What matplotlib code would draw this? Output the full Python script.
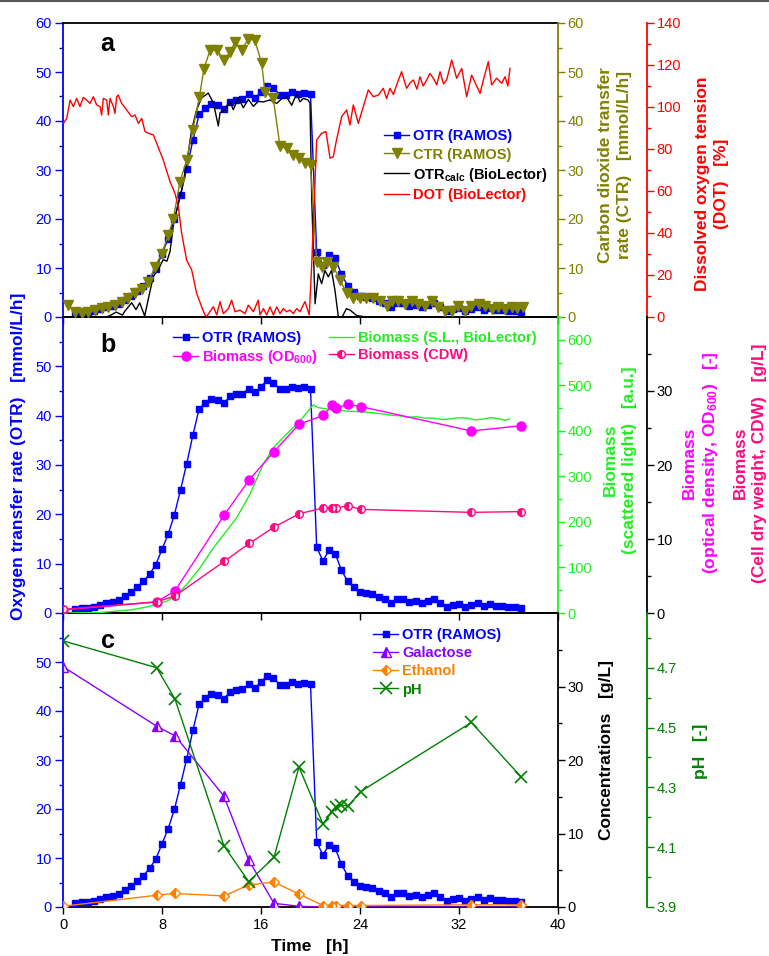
import matplotlib
matplotlib.use('Agg')
import matplotlib.pyplot as plt
from matplotlib.ticker import FixedLocator, FormatStrFormatter
from matplotlib.lines import Line2D

plt.rcParams['font.family'] = ['Liberation Sans', 'DejaVu Sans']
plt.rcParams['mathtext.fontset'] = 'custom'
plt.rcParams['mathtext.rm'] = 'Liberation Sans'
plt.rcParams['mathtext.bf'] = 'Liberation Sans:bold'
plt.rcParams['mathtext.it'] = 'Liberation Sans:italic'

# ---------------- data ----------------
otr_t = [1.0, 1.5, 2.0, 2.5, 3.0, 3.5, 4.0, 4.5, 5.0, 5.5, 6.0, 6.5, 7.0, 7.5, 8.0, 8.5,
         9.0, 9.5, 10.0, 10.5, 11.0, 11.5, 12.0, 12.5, 13.0, 13.5, 14.0, 14.5, 15.0, 15.5,
         16.0, 16.5, 17.0, 17.5, 18.0, 18.5, 19.0, 19.5, 20.0, 20.5, 21.0, 21.5, 22.0, 22.5,
         23.0, 23.5, 24.0, 24.5, 25.0, 25.5, 26.0, 26.5, 27.0, 27.5, 28.0, 28.5, 29.0, 29.5,
         30.0, 30.5, 31.0, 31.5, 32.0, 32.5, 33.0, 33.5, 34.0, 34.5, 35.0, 35.5, 36.0, 36.5, 37.0]
otr_v = [0.75, 1.0, 1.1, 1.3, 1.6, 2.0, 2.3, 2.7, 3.4, 4.3, 5.3, 6.4, 7.9, 9.8, 12.9, 16.0,
         19.9, 25.0, 30.3, 36.1, 41.4, 42.6, 43.4, 43.2, 42.5, 43.9, 44.3, 44.4, 45.5, 44.7,
         45.9, 47.2, 46.7, 45.4, 45.4, 45.9, 45.6, 45.8, 45.5, 13.3, 10.6, 12.7, 12.0, 8.7,
         6.4, 5.2, 4.3, 4.0, 3.9, 3.3, 2.8, 2.1, 2.8, 2.8, 2.3, 2.5, 2.1, 2.5,
         2.8, 2.0, 1.3, 1.6, 1.8, 1.3, 1.6, 2.0, 1.4, 1.8, 1.4, 1.4, 1.3, 1.2, 1.1]

ctr_t = [0.43, 0.97, 1.51, 2.05, 2.59, 3.12, 3.66, 4.2, 4.74, 5.28, 5.82, 6.36, 6.9, 7.43,
         7.97, 8.51, 8.92, 9.45, 9.99, 10.48, 11.02, 11.39, 11.88, 12.47, 13.0, 13.5, 13.9,
         14.44, 14.97, 15.5, 16.05, 16.32, 16.99, 17.54, 18.07, 18.61, 19.1, 19.55, 20.0,
         20.5, 20.9, 21.36, 21.84, 22.38, 22.92, 23.46, 24.0, 24.5, 25.08, 25.6, 26.15,
         26.56, 27.1, 27.6, 28.2, 28.7, 29.25, 29.8, 30.33, 30.87, 31.4, 31.95, 32.5, 33.0,
         33.6, 34.1, 34.64, 35.18, 35.7, 36.25, 36.7, 37.2]
ctr_v = [2.45, 1.1, 0.9, 1.1, 1.4, 1.8, 2.1, 2.45, 3.1, 3.8, 4.8, 5.8, 7.1, 10.2,
         12.9, 16.7, 20.1, 27.6, 32.0, 38.1, 44.9, 50.7, 54.4, 54.4, 52.4, 54.1, 56.1,
         54.4, 56.8, 56.5, 51.8, 46.0, 44.6, 34.8, 34.4, 33.1, 32.4, 31.4, 31.0,
         11.3, 10.3, 11.3, 10.3, 7.6, 4.9, 3.9, 3.9, 3.9, 3.9, 3.3, 2.3,
         3.3, 3.3, 2.6, 3.3, 2.6, 2.3, 3.3, 2.0, 1.3, 1.3, 2.3, 1.3, 2.3,
         2.6, 2.3, 1.6, 2.0, 1.6, 2.0, 1.8, 2.0]

calc_t = [0.0, 1.0, 2.0, 3.0, 3.8, 4.3, 4.8, 5.0, 5.55, 5.9, 6.2, 6.6, 7.0, 7.3, 7.7, 8.1,
          8.4, 8.65, 8.9, 9.2, 9.6, 10.0, 10.4, 10.8, 11.2, 11.74, 12.15, 12.55, 12.69, 13.1,
          13.5, 13.76, 14.17, 14.57, 14.98, 15.38, 15.78, 16.19, 16.73, 17.27, 17.7, 18.07,
          18.48, 18.88, 19.15, 19.42, 19.8, 19.96, 20.1, 20.37, 20.63, 20.9, 21.17, 21.44,
          21.7, 21.98, 22.25, 22.5, 22.9, 23.2, 23.73, 24.5, 25.0]
calc_v = [-0.5, -0.5, -0.4, -0.5, 0.3, 1.0, 0.4, 1.2, 2.9, 1.5, 2.9, 0.2, 4.9, 8.3, 9.7, 11.7,
          11.4, 13.4, 18.5, 21.9, 26.0, 31.4, 38.2, 42.3, 44.7, 45.7, 43.7, 39.0, 41.7, 42.3,
          44.0, 42.3, 44.7, 42.7, 44.4, 43.0, 44.0, 43.9, 44.3, 43.6, 44.6, 44.9,
          43.2, 45.6, 43.9, 44.6, 44.3, 43.6, 24.0, 2.7, 8.8, 6.8, 9.5, 8.2,
          9.5, 5.4, 0.0, -0.3, 1.7, 1.4, 0.3, 0.0, -0.3]

dot_t = [0.03, 0.3, 0.57, 0.84, 1.1, 1.37, 1.64, 1.91, 2.18, 2.45, 2.72, 2.99, 3.12, 3.26,
         3.53, 3.66, 3.8, 4.07, 4.2, 4.34, 4.47, 4.74, 5.14, 5.55, 5.82, 6.09, 6.36, 6.63,
         6.9, 7.3, 7.57, 8.1, 8.65, 9.05, 9.32, 9.59, 9.99, 10.4, 10.8, 11.2, 11.47, 11.6,
         12.15, 12.42, 12.69, 12.96, 13.36, 13.63, 13.9, 14.3, 14.7, 14.98, 15.38, 15.78,
         15.92, 16.19, 16.46, 16.73, 17.0, 17.27, 17.54, 17.8, 18.07, 18.34, 18.61, 18.88,
         19.15, 19.55, 19.9, 20.09, 20.5, 20.9, 21.25, 21.58, 21.84, 22.1, 22.52, 22.92,
         23.19, 23.46, 23.86, 24.27, 24.67, 25.08, 25.48, 25.88, 26.15, 26.42, 26.7, 26.96,
         27.36, 27.77, 28.05, 28.31, 28.6, 28.85, 29.1, 29.39, 29.65, 29.93, 30.2, 30.47,
         30.75, 31.0, 31.41, 31.81, 32.22, 32.62, 33.02, 33.35, 33.7, 33.97, 34.37, 34.64,
         35.04, 35.45, 35.72, 35.95, 36.12]
dot_v = [92.2, 94.6, 103.3, 100.2, 104.1, 100.2, 104.6, 103.3, 101.7, 104.9, 101.0, 100.2,
         96.2, 104.1, 103.3, 96.2, 104.1, 100.2, 97.0, 104.9, 105.7, 101.7, 98.6, 95.4, 96.2,
         92.2, 94.6, 88.3, 87.5, 86.7, 82.7, 74.8, 64.4, 58.9, 52.5, 39.8, 27.1, 22.4, 11.3,
         4.9, 1.0, 0.2, 4.9, 1.0, 7.3, 1.6, 4.0, 8.0, 2.5, 3.3, 1.6, 5.6, 2.5, 8.0,
         1.0, 4.0, 1.0, 4.8, 1.0, 4.8, 1.6, 4.0, 2.5, 3.3, 1.6, 4.0,
         2.5, 7.3, 1.0, 24.0, 84.3, 87.5, 88.3, 75.6, 76.3, 84.3, 95.4, 98.6,
         91.4, 101.0, 92.2, 100.2, 108.1, 104.9, 105.7, 108.9, 104.0, 108.9, 106.0, 110.5,
         116.8, 108.9, 111.5, 112.9, 108.5, 114.4, 110.0, 112.9, 116.0, 113.7, 110.5, 116.8,
         111.0, 112.9, 122.4, 113.7, 118.4, 104.9, 115.2, 111.0, 106.5, 112.9, 121.6, 110.5,
         113.7, 111.3, 114.4, 110.0, 118.4]

sl_t = [0.0, 3.0, 5.68, 7.03, 8.38, 9.05, 9.99, 11.07, 12.15, 13.09, 14.03, 15.11, 16.19,
        17.0, 18.07, 19.15, 19.82, 20.23, 20.63, 21.3, 21.85, 22.65, 23.3, 24.0, 24.9, 25.9,
        26.6, 27.23, 27.9, 28.58, 29.2, 29.93, 30.6, 31.27, 31.9, 32.62, 33.3, 33.97, 34.6,
        35.3, 35.7, 36.07]
sl_v = [0, 1, 7.5, 14.8, 25.8, 36.8, 62.6, 99, 143, 176, 209, 261, 327,
        363, 393, 422, 444, 457, 451, 448, 446, 444, 443, 442, 440, 437,
        434, 433, 430, 431, 428, 428, 425, 426, 429, 428, 424, 426, 429,
        426, 423, 426]

samp_t = [0.0, 7.57, 9.05, 13.05, 15.05, 17.05, 19.07, 21.02, 21.77, 22.06, 23.06, 24.05,
          33.0, 37.0]
od_v = [0.4, 1.5, 3.0, 13.3, 18.0, 21.8, 25.5, 26.7, 28.1, 27.7, 28.2, 27.9, 24.6, 25.3]
cdw_v = [0.5, 1.5, 2.3, 7.0, 9.4, 11.6, 13.4, 14.2, 14.2, 14.2, 14.5, 14.0, 13.6, 13.7]

conc_t = [0.0, 7.57, 9.05, 13.0, 15.0, 17.05, 19.07, 21.02, 21.77, 22.06, 23.06, 24.05,
          33.0, 37.0]
gal_v = [32.7, 24.6, 23.3, 15.1, 6.4, 0.5, 0.1, 0.0, 0.0, 0.0, 0.0, 0.0, 0.0, 0.0]
eth_v = [0.1, 1.6, 1.85, 1.5, 3.0, 3.4, 1.75, 0.2, 0.2, 0.2, 0.2, 0.2, 0.3, 0.3]

ph_t = [0.0, 7.57, 9.05, 13.0, 15.0, 17.05, 19.07, 21.0, 21.77, 22.06, 22.44, 23.06, 24.05,
        33.0, 37.0]
ph_v = [4.79, 4.70, 4.595, 4.105, 3.985, 4.066, 4.368, 4.178, 4.219, 4.236, 4.241, 4.238,
        4.286, 4.517, 4.336]

time_ticks = [0, 8, 16, 24, 32, 40]

# ---------------- colours ----------------
BLUE = '#0000FF'
OLIVE = '#808000'
RED = '#FF0000'
LIME = '#22EE22'
MAGENTA = '#FF00FF'
PINK = '#FF0A80'
PURPLE = '#8A00FF'
ORANGE = '#FF8000'
DGREEN = '#008000'

W_PX, H_PX = 769, 956
fig = plt.figure(figsize=(W_PX / 100, H_PX / 100), dpi=100)

def fx(px):
    return px / W_PX

def fy(py):
    return 1 - py / H_PX

X0, X1 = 63, 558
OFFS = (647 - X0) / (X1 - X0)

def make_ax(top, bottom):
    ax = fig.add_axes([fx(X0), fy(bottom), fx(X1 - X0), (bottom - top) / H_PX])
    ax.patch.set_visible(False)
    return ax

axA = make_ax(23, 317)
axB = make_ax(317, 613)
axC = make_ax(613, 907)

SP_LW = 1.3
TICK = dict(direction='out', width=1.0)
TLS = 10.5

for ax, lab_top in [(axA, 60), (axB, 50), (axC, 50)]:
    ax.set_xlim(0, 40)
    ax.set_ylim(0, 60)
    ax.xaxis.set_major_locator(FixedLocator(time_ticks))
    ax.yaxis.set_major_locator(FixedLocator(list(range(0, lab_top + 1, 10))))
    ax.yaxis.set_minor_locator(FixedLocator([5, 15, 25, 35, 45, 55]))
    for s in ['left', 'right', 'top', 'bottom']:
        ax.spines[s].set_linewidth(SP_LW)
    ax.spines['left'].set_color(BLUE)
    ax.spines['right'].set_visible(False)
    ax.tick_params(axis='y', which='major', length=6, colors=BLUE, labelsize=TLS, pad=2, **TICK)
    ax.tick_params(axis='y', which='minor', length=3, colors=BLUE, **TICK)
    ax.tick_params(axis='x', which='major', length=5, labelsize=TLS, pad=3, top=False, **TICK)
    ax.plot(otr_t, otr_v, '-s', color=BLUE, ms=5, lw=1.0, zorder=3)

axA.tick_params(axis='x', labelbottom=False)
axB.tick_params(axis='x', labelbottom=False)


def twin(ax, color, offset=None):
    t = ax.twinx()
    for s in ['left', 'top', 'bottom']:
        t.spines[s].set_visible(False)
    t.spines['right'].set_color(color)
    t.spines['right'].set_linewidth(SP_LW)
    if offset is not None:
        t.spines['right'].set_position(('axes', offset))
    t.tick_params(axis='y', which='major', length=5, colors=color, labelsize=TLS, pad=2, **TICK)
    t.tick_params(axis='y', which='minor', length=3, colors=color, **TICK)
    return t

# ---------- panel a ----------
lcalc, = axA.plot(calc_t, calc_v, color='black', lw=1.0, zorder=4)
axA_ctr = twin(axA, OLIVE)
axA_ctr.set_ylim(0, 60)
axA_ctr.yaxis.set_major_locator(FixedLocator(list(range(0, 61, 10))))
axA_ctr.yaxis.set_minor_locator(FixedLocator([5, 15, 25, 35, 45, 55]))
lctr, = axA_ctr.plot(ctr_t, ctr_v, '-v', color=OLIVE, ms=7, lw=1.0)
axA_dot = twin(axA, RED, OFFS)
axA_dot.set_ylim(0, 140)
axA_dot.yaxis.set_major_locator(FixedLocator(list(range(0, 141, 20))))
axA_dot.yaxis.set_minor_locator(FixedLocator(list(range(10, 140, 20))))
ldot, = axA_dot.plot(dot_t, dot_v, color=RED, lw=1.0)
lotrA = Line2D([], [], color=BLUE, marker='s', ms=5, lw=1.0)

LEG = dict(frameon=False, loc='upper left', handlelength=1.75, handletextpad=0.25,
           labelspacing=0.28, borderpad=0, borderaxespad=0, numpoints=1,
           prop={'weight': 'bold', 'size': 10.5})
legA = axA_dot.legend([lotrA, lctr, lcalc, ldot],
                      ['OTR (RAMOS)', 'CTR (RAMOS)', r'OTR$_{\mathbf{calc}}$ (BioLector)',
                       'DOT (BioLector)'],
                      bbox_to_anchor=(0.648, 0.638), **LEG)
for txt, c in zip(legA.get_texts(), [BLUE, OLIVE, 'black', RED]):
    txt.set_color(c)

# ---------- panel b ----------
axB_sl = twin(axB, LIME)
axB_sl.set_ylim(0, 650)
axB_sl.yaxis.set_major_locator(FixedLocator(list(range(0, 601, 100))))
axB_sl.yaxis.set_minor_locator(FixedLocator(list(range(50, 651, 100))))
lsl, = axB_sl.plot(sl_t, sl_v, color=LIME, lw=1.0)
axB_bm = twin(axB, 'black', OFFS)
axB_bm.set_ylim(0, 40)
axB_bm.yaxis.set_major_locator(FixedLocator([0, 10, 20, 30]))
axB_bm.yaxis.set_minor_locator(FixedLocator([5, 15, 25, 35]))
lod, = axB_bm.plot(samp_t, od_v, '-o', color=MAGENTA, ms=6.5, lw=1.0)
lcdw, = axB_bm.plot(samp_t, cdw_v, '-o', color=PINK, ms=5.5, lw=1.0, fillstyle='left',
                    markerfacecoloralt='white', markeredgecolor=PINK, markeredgewidth=1.0)
lotrB = Line2D([], [], color=BLUE, marker='s', ms=5, lw=1.0)
LEGB = dict(LEG)
LEGB['labelspacing'] = 0.2
legB = axB_bm.legend([lotrB, lod, lsl, lcdw],
                     ['OTR (RAMOS)', r'Biomass (OD$_{\mathbf{600}}$)',
                      'Biomass (S.L., BioLector)', 'Biomass (CDW)'],
                     ncol=2, columnspacing=0.75, bbox_to_anchor=(0.222, 0.952), **LEGB)
for txt, c in zip(legB.get_texts(), [BLUE, MAGENTA, LIME, PINK]):
    txt.set_color(c)

# ---------- panel c ----------
axC_cc = twin(axC, 'black')
axC_cc.set_ylim(0, 40)
axC_cc.yaxis.set_major_locator(FixedLocator([0, 10, 20, 30]))
axC_cc.yaxis.set_minor_locator(FixedLocator([5, 15, 25, 35]))
lgal, = axC_cc.plot(conc_t, gal_v, '-^', color=PURPLE, ms=7, lw=1.0, fillstyle='left',
                    markerfacecoloralt='white', markeredgecolor=PURPLE, markeredgewidth=1.0)
leth, = axC_cc.plot(conc_t, eth_v, '-D', color=ORANGE, ms=5.5, lw=1.0, fillstyle='left',
                    markerfacecoloralt='white', markeredgecolor=ORANGE, markeredgewidth=1.0)
axC_ph = twin(axC, DGREEN, OFFS)
axC_ph.set_ylim(3.9, 4.883)
axC_ph.yaxis.set_major_locator(FixedLocator([3.9, 4.1, 4.3, 4.5, 4.7]))
axC_ph.yaxis.set_minor_locator(FixedLocator([4.0, 4.2, 4.4, 4.6, 4.8]))
axC_ph.yaxis.set_major_formatter(FormatStrFormatter('%.1f'))
lph, = axC_ph.plot(ph_t, ph_v, '-x', color=DGREEN, ms=8, mew=1.2, lw=1.0)
lotrC = Line2D([], [], color=BLUE, marker='s', ms=5, lw=1.0)
legC = axC_ph.legend([lotrC, lgal, leth, lph], ['OTR (RAMOS)', 'Galactose', 'Ethanol', 'pH'],
                     bbox_to_anchor=(0.626, 0.948), **LEG)
for txt, c in zip(legC.get_texts(), [BLUE, PURPLE, ORANGE, DGREEN]):
    txt.set_color(c)

# ---------- panel letters ----------
for ax, letter, (xx, yy) in [(axA, 'a', (0.09, 0.929)), (axB, 'b', (0.091, 0.904)),
                             (axC, 'c', (0.09, 0.905))]:
    ax.text(xx, yy, letter, transform=ax.transAxes, fontsize=18, fontweight='bold',
            ha='center', va='center', color='black', zorder=10)

# ---------- axis labels ----------
LBL = dict(fontsize=12.5, fontweight='bold', rotation=90, ha='center', va='center',
           multialignment='center', linespacing=1.3)
fig.text(fx(19), fy(456), 'Oxygen transfer rate (OTR)   [mmol/L/h]', color=BLUE, **LBL)
fig.text(fx(615), fy(165), 'Carbon dioxide transfer\nrate (CTR)   [mmol/L/h]', color=OLIVE, **LBL)
fig.text(fx(712), fy(184), 'Dissolved oxygen tension\n(DOT)   [%]', color=RED, **LBL)
fig.text(fx(620), fy(460), 'Biomass\n(scattered light)   [a.u.]', color=LIME, **LBL)
fig.text(fx(701), fy(463), 'Biomass\n' + r'(optical density, OD$_{\mathbf{600}}$)   [-]',
         color=MAGENTA, **LBL)
fig.text(fx(750), fy(463), 'Biomass\n(Cell dry weight, CDW)   [g/L]', color=PINK, **LBL)
fig.text(fx(607), fy(750), 'Concentrations   [g/L]', color='black', **LBL)
fig.text(fx(700), fy(751), 'pH   [-]', color=DGREEN, **LBL)
fig.text(fx(310), fy(947), 'Time   [h]', color='black', fontsize=12.5, fontweight='bold',
         ha='center', va='center')

fig.add_artist(Line2D([0, 1], [fy(0.8), fy(0.8)], transform=fig.transFigure,
                      color='#555555', lw=1.5))

fig.savefig('out.png', dpi=100)
